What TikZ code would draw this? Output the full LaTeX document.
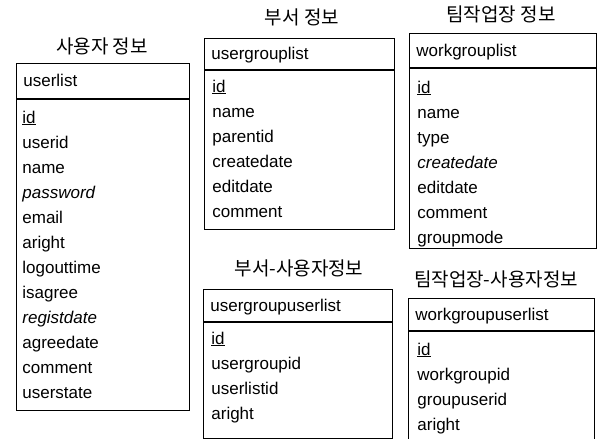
\documentclass[tikz,border=0pt]{standalone}
\usepackage{fontspec}
\setmainfont{Liberation Sans}
\newfontfamily\kr{Noto Sans CJK KR}
\usetikzlibrary{shapes}
\tikzstyle{ttl} = [font=\kr\fontsize{19pt}{22pt}\selectfont]
\tikzstyle{hd} = [rectangle, draw, anchor=north west, inner xsep=7pt,
    inner ysep=0pt, text height=12pt, text depth=0pt, align=left]
\tikzstyle{bd} = [rectangle, draw, anchor=north west, inner sep=0pt]
\tikzstyle{fld} = [inner sep=0pt, text width=150pt, align=left,
    text height=12pt, text depth=4pt]

\begin{document}
\begin{tikzpicture}[x=1pt,y=-1pt,node distance=25pt,line width=0.8pt,
    font=\fontsize{17pt}{20pt}\selectfont]
  \useasboundingbox (0,0) rectangle (600,439);

  % 사용자 정보
  \node[ttl] (ult) at (102,46) {사용자 정보};
  \node[hd,text width=159pt,minimum height=35pt] (ulh) at (16,63) {userlist};
  \node[bd,minimum width=173pt,minimum height=311pt] (ulb) at (ulh.south west) {};
  \node[fld,anchor=base west] (ul1) at (22,123) {\underline{id}};
  \node[fld] (ul2) [below of=ul1] {userid};
  \node[fld] (ul3) [below of=ul2] {name};
  \node[fld] (ul4) [below of=ul3] {\itshape password};
  \node[fld] (ul5) [below of=ul4] {email};
  \node[fld] (ul6) [below of=ul5] {aright};
  \node[fld] (ul7) [below of=ul6] {logouttime};
  \node[fld] (ul8) [below of=ul7] {isagree};
  \node[fld] (ul9) [below of=ul8] {\itshape registdate};
  \node[fld] (ul10) [below of=ul9] {agreedate};
  \node[fld] (ul11) [below of=ul10] {comment};
  \node[fld] (ul12) [below of=ul11] {userstate};

  % 부서 정보
  \node[ttl] (ugt) at (302,17) {부서 정보};
  \node[hd,text width=176pt,minimum height=31pt] (ugh) at (204,38) {usergrouplist};
  \node[bd,minimum width=190pt,minimum height=159pt] (ugb) at (ugh.south west) {};
  \node[fld,anchor=base west] (ug1) at (212,92) {\underline{id}};
  \node[fld] (ug2) [below of=ug1] {name};
  \node[fld] (ug3) [below of=ug2] {parentid};
  \node[fld] (ug4) [below of=ug3] {createdate};
  \node[fld] (ug5) [below of=ug4] {editdate};
  \node[fld] (ug6) [below of=ug5] {comment};

  % 팀작업장 정보
  \node[ttl] (wgt) at (501,14) {팀작업장 정보};
  \node[hd,text width=173pt,minimum height=34pt] (wgh) at (409,33) {workgrouplist};
  \node[bd,minimum width=187pt,minimum height=180pt] (wgb) at (wgh.south west) {};
  \node[fld,anchor=base west] (wg1) at (417,93) {\underline{id}};
  \node[fld] (wg2) [below of=wg1] {name};
  \node[fld] (wg3) [below of=wg2] {type};
  \node[fld] (wg4) [below of=wg3] {\itshape createdate};
  \node[fld] (wg5) [below of=wg4] {editdate};
  \node[fld] (wg6) [below of=wg5] {comment};
  \node[fld] (wg7) [below of=wg6] {groupmode};

  % 부서-사용자정보
  \node[ttl] (gut) at (299,268) {부서-사용자정보};
  \node[hd,text width=175pt,minimum height=32pt] (guh) at (203,289) {usergroupuserlist};
  \node[bd,minimum width=189pt,minimum height=116pt] (gub) at (guh.south west) {};
  \node[fld,anchor=base west] (gu1) at (211,344) {\underline{id}};
  \node[fld] (gu2) [below of=gu1] {usergroupid};
  \node[fld] (gu3) [below of=gu2] {userlistid};
  \node[fld] (gu4) [below of=gu3] {aright};

  % 팀작업장-사용자정보
  \node[ttl] (wut) at (496,279) {팀작업장-사용자정보};
  \node[hd,text width=172pt,minimum height=32pt] (wuh) at (408,298) {workgroupuserlist};
  \node[bd,minimum width=186pt,minimum height=130pt] (wub) at (wuh.south west) {};
  \node[fld,anchor=base west] (wu1) at (417,355) {\underline{id}};
  \node[fld] (wu2) [below of=wu1] {workgroupid};
  \node[fld] (wu3) [below of=wu2] {groupuserid};
  \node[fld] (wu4) [below of=wu3] {aright};
\end{tikzpicture}
\end{document}
